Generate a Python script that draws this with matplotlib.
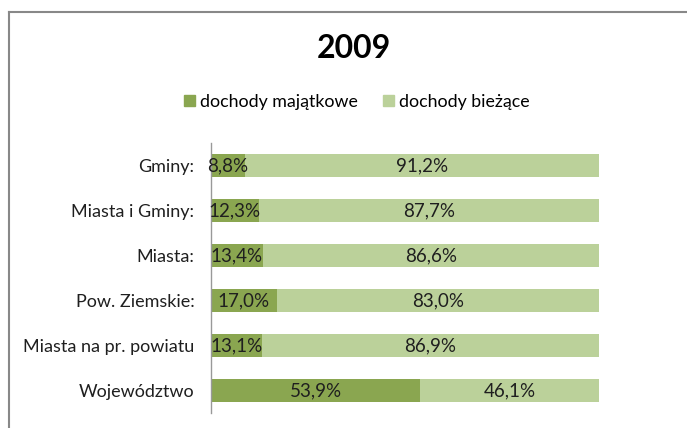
import numpy as np
import matplotlib.pyplot as plt
from matplotlib.patches import Patch
from matplotlib.lines import Line2D

plt.rcParams['font.family'] = ['Lato', 'DejaVu Sans']

title = "2009"
categories = ["Gminy:", "Miasta i Gminy:", "Miasta:", "Pow. Ziemskie:",
              "Miasta na pr. powiatu", "Województwo"]
majatkowe = [8.8, 12.3, 13.4, 17.0, 13.1, 53.9]
biezace = [91.2, 87.7, 86.6, 83.0, 86.9, 46.1]
series_names = ["dochody majątkowe", "dochody bieżące"]

dark = "#8aa650"
light = "#bbd19a"

fig = plt.figure(figsize=(6.87, 4.28), dpi=100)
ax = fig.add_axes([211 / 687, 1 - 413 / 428, 388 / 687, 270 / 428])

y = np.arange(len(categories))
ax.barh(y, majatkowe, height=0.5, color=dark)
ax.barh(y, biezace, left=majatkowe, height=0.5, color=light)

def fmt(v):
    return f"{v:.1f}%".replace(".", ",")

for i in range(len(categories)):
    ax.text(majatkowe[i] / 2, y[i], fmt(majatkowe[i]), ha='center', va='center',
            fontsize=13.5, color='#1f1f1f')
    ax.text(majatkowe[i] + biezace[i] / 2, y[i], fmt(biezace[i]), ha='center',
            va='center', fontsize=13.5, color='#1f1f1f')

ax.set_xlim(0, 100)
ax.set_ylim(len(categories) - 0.5, -0.5)
ax.set_yticks(y)
ax.set_yticklabels(categories, fontsize=13, color='#1f1f1f')
ax.tick_params(axis='y', length=0, pad=12)
ax.set_xticks([])
for s in ['top', 'right', 'bottom']:
    ax.spines[s].set_visible(False)
ax.spines['left'].set_color('#999999')
ax.spines['left'].set_linewidth(1)

fig.text(354 / 687, 1 - 49 / 428, title, ha='center', va='center',
         fontsize=23, fontweight='bold')

handles = [Patch(color=dark), Patch(color=light)]
fig.legend(handles, series_names, loc='center', bbox_to_anchor=(357 / 687, 1 - 102 / 428),
           ncol=2, frameon=False, fontsize=12.8, handlelength=0.6, handleheight=0.6,
           handletextpad=0.3, columnspacing=1.4)

# outer frame (top and left edges visible in the crop)
fig.add_artist(Line2D([9 / 687, 1], [1 - 12 / 428, 1 - 12 / 428], color='#888888', lw=1.5))
fig.add_artist(Line2D([9 / 687, 9 / 687], [0, 1 - 12 / 428], color='#888888', lw=1.5))

fig.savefig("out.png", dpi=100)
